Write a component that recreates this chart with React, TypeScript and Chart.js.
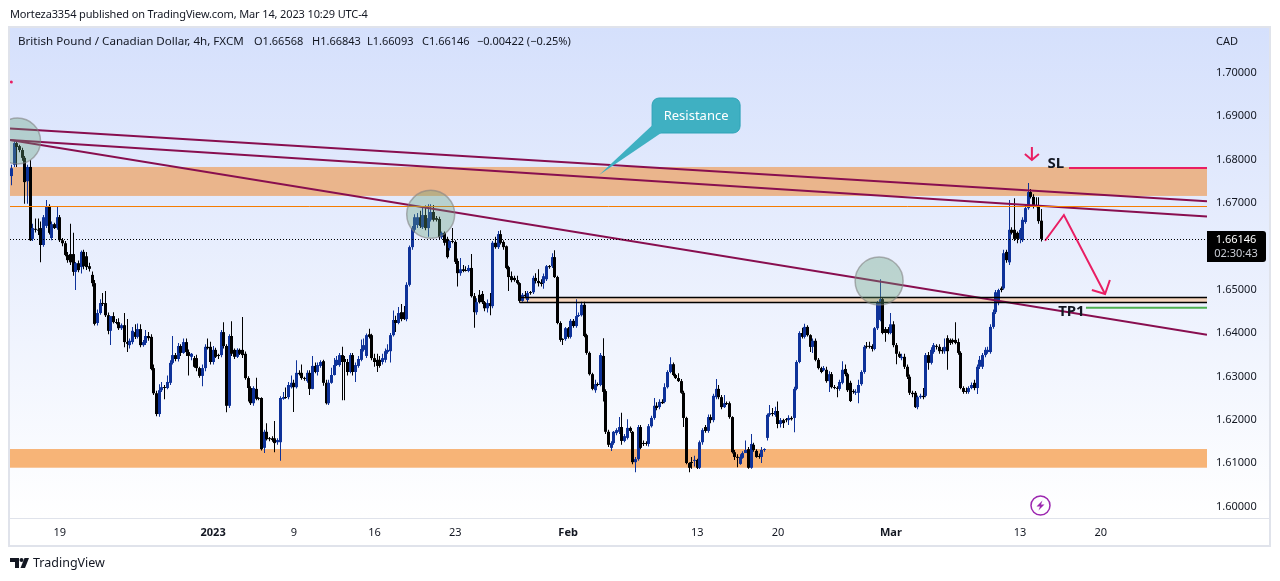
import { useEffect, useRef } from 'react';
import { Chart, registerables } from 'chart.js';

Chart.register(...registerables);

// GBP/CAD 4h candles, in pips above 1.60000
const opens = [
  760, 786, 836, 829, 820, 802, 748, 781, 615, 638,
  636, 640, 601, 645, 691, 617, 649, 640, 665, 612,
  605, 578, 580, 580, 539, 559, 550, 585, 575, 552,
  532, 513, 421, 444, 467, 467, 439, 403, 437, 423,
  423, 409, 416, 377, 370, 377, 400, 389, 407, 370,
  375, 391, 389, 317, 259, 211, 266, 273, 271, 283,
  329, 347, 338, 368, 352, 377, 354, 343, 340, 340,
  317, 299, 317, 366, 366, 331, 359, 347, 347, 400,
  368, 230, 391, 359, 343, 359, 359, 350, 294, 271,
  236, 269, 248, 248, 133, 170, 155, 155, 155, 146,
  146, 246, 250, 250, 273, 283, 273, 306, 306, 294,
  287, 306, 269, 322, 308, 322, 333, 283, 236, 283,
  301, 324, 324, 347, 338, 331, 308, 347, 308, 322,
  336, 359, 345, 395, 393, 340, 336, 336, 331, 336,
  354, 356, 393, 428, 421, 446, 446, 430, 509, 596,
  636, 647, 665, 642, 670, 640, 659, 677, 663, 661,
  619, 629, 615, 594, 610, 608, 564, 536, 545, 543,
  541, 548, 483, 446, 486, 488, 469, 455, 467, 460,
  606, 596, 626, 608, 598, 550, 529, 525, 520, 513,
  472, 486, 474, 492, 492, 525, 518, 515, 513, 522,
  552, 552, 573, 527, 421, 384, 384, 409, 389, 426,
  414, 437, 439, 463, 393, 352, 303, 266, 280, 278,
  345, 264, 170, 133, 144, 167, 170, 181, 149, 156,
  179, 170, 100, 107, 181, 144, 144, 142, 183, 202,
  230, 227, 239, 239, 273, 308, 326, 301, 294, 287,
  260, 202, 98, 100, 103, 105, 87, 146, 181, 172,
  204, 197, 250, 269, 250, 227, 236, 236, 204, 123,
  112, 96, 110, 121, 130, 87, 140, 126, 114, 112,
  128, 156, 209, 213, 209, 218, 188, 197, 199, 197,
  202, 202, 269, 331, 398, 389, 412, 393, 366, 380,
  336, 317, 312, 313, 287, 303, 273, 271, 269, 283,
  315, 303, 283, 264, 260, 260, 280, 308, 368, 368,
  368, 361, 409, 428, 476, 407, 407, 398, 418, 370,
  350, 340, 343, 320, 297, 260, 260, 227, 250, 253,
  253, 347, 329, 354, 368, 366, 359, 356, 386, 382,
  382, 382, 377, 352, 271, 264, 262, 271, 283, 271,
  320, 320, 347, 354, 354, 412, 446, 467, 501, 501,
  585, 561, 636, 636, 629, 615, 612, 654, 686, 723,
  712, 693, 693, 657,
];
const closes = [
  778, 836, 827, 820, 802, 746, 781, 612, 640, 636,
  634, 601, 665, 689, 629, 649, 640, 665, 612, 605,
  578, 566, 561, 539, 559, 543, 585, 552, 550, 546,
  513, 419, 444, 467, 465, 439, 403, 437, 423, 421,
  409, 416, 377, 373, 380, 403, 389, 407, 370, 377,
  391, 386, 315, 259, 211, 266, 273, 271, 285, 329,
  347, 338, 368, 352, 377, 354, 345, 350, 320, 317,
  299, 317, 366, 363, 331, 359, 343, 345, 400, 368,
  230, 391, 350, 343, 359, 350, 347, 294, 271, 236,
  271, 246, 246, 130, 170, 153, 153, 151, 144, 151,
  248, 250, 248, 278, 283, 273, 306, 303, 294, 292,
  306, 269, 322, 308, 324, 331, 283, 236, 283, 301,
  324, 336, 347, 331, 331, 308, 347, 308, 324, 338,
  361, 370, 393, 389, 340, 331, 322, 322, 340, 356,
  359, 393, 428, 421, 444, 430, 430, 509, 596, 640,
  665, 665, 645, 670, 640, 663, 677, 659, 659, 619,
  629, 606, 573, 610, 608, 562, 536, 545, 541, 541,
  548, 483, 446, 469, 469, 469, 455, 467, 460, 606,
  596, 626, 606, 596, 548, 527, 520, 520, 513, 472,
  486, 483, 490, 490, 525, 518, 513, 511, 529, 552,
  550, 573, 527, 421, 382, 382, 409, 389, 426, 414,
  437, 439, 463, 391, 352, 303, 269, 280, 278, 347,
  262, 170, 140, 144, 170, 174, 181, 149, 160, 179,
  172, 100, 107, 181, 133, 142, 142, 183, 202, 230,
  225, 239, 236, 273, 308, 326, 301, 294, 287, 260,
  202, 98, 87, 98, 105, 87, 146, 174, 172, 204,
  197, 253, 269, 250, 227, 236, 234, 204, 123, 112,
  110, 112, 121, 128, 87, 142, 128, 112, 112, 128,
  128, 209, 213, 211, 218, 188, 197, 190, 197, 202,
  199, 269, 331, 398, 389, 412, 393, 366, 380, 336,
  317, 308, 317, 287, 303, 273, 271, 269, 285, 313,
  303, 266, 241, 262, 262, 278, 308, 366, 366, 366,
  361, 409, 469, 476, 398, 398, 398, 418, 370, 350,
  343, 343, 320, 297, 260, 257, 227, 250, 253, 250,
  347, 329, 359, 370, 366, 356, 356, 366, 356, 375,
  377, 375, 352, 271, 262, 262, 271, 278, 271, 320,
  336, 347, 359, 359, 412, 446, 492, 497, 497, 582,
  566, 636, 629, 615, 615, 636, 659, 686, 723, 712,
  689, 691, 656, 615,
];
const highs = [
  786, 843, 843, 832, 825, 806, 786, 797, 650, 662,
  662, 655, 670, 705, 695, 655, 652, 689, 670, 617,
  610, 585, 650, 629, 562, 565, 588, 590, 585, 560,
  540, 520, 452, 476, 490, 495, 445, 410, 446, 430,
  432, 420, 444, 430, 385, 412, 418, 420, 418, 382,
  405, 400, 395, 325, 265, 280, 285, 278, 300, 335,
  391, 352, 375, 372, 385, 385, 360, 352, 345, 348,
  320, 325, 372, 385, 378, 368, 364, 350, 405, 423,
  372, 395, 425, 362, 363, 362, 435, 355, 298, 275,
  275, 295, 250, 250, 175, 190, 158, 160, 195, 155,
  252, 262, 272, 285, 300, 290, 335, 312, 325, 297,
  312, 312, 345, 330, 330, 335, 336, 290, 290, 318,
  340, 345, 352, 366, 345, 338, 352, 352, 330, 345,
  383, 385, 397, 408, 396, 350, 350, 345, 350, 362,
  372, 398, 450, 438, 458, 465, 460, 515, 600, 645,
  672, 675, 680, 688, 692, 695, 695, 693, 668, 666,
  632, 632, 620, 612, 640, 612, 570, 571, 555, 552,
  555, 580, 490, 478, 497, 495, 472, 475, 490, 610,
  620, 633, 635, 612, 600, 553, 540, 530, 530, 515,
  490, 495, 495, 495, 530, 536, 545, 522, 535, 555,
  555, 582, 589, 530, 425, 386, 412, 412, 430, 430,
  476, 445, 470, 470, 396, 355, 306, 290, 284, 352,
  386, 268, 175, 148, 172, 178, 204, 214, 165, 199,
  182, 172, 112, 186, 186, 150, 148, 188, 207, 248,
  238, 245, 245, 282, 312, 342, 330, 304, 305, 292,
  265, 205, 100, 112, 115, 108, 150, 178, 186, 210,
  210, 258, 292, 278, 255, 255, 240, 240, 206, 128,
  118, 118, 125, 150, 135, 165, 145, 130, 120, 135,
  132, 212, 232, 225, 228, 240, 202, 200, 202, 208,
  206, 274, 335, 402, 410, 419, 416, 395, 385, 385,
  340, 320, 322, 320, 310, 308, 278, 275, 290, 333,
  325, 306, 288, 268, 268, 290, 312, 370, 377, 378,
  372, 412, 472, 522, 480, 412, 412, 444, 425, 375,
  355, 350, 350, 325, 302, 265, 264, 254, 258, 271,
  352, 354, 365, 375, 372, 372, 365, 385, 393, 385,
  385, 423, 385, 356, 275, 272, 275, 284, 290, 325,
  345, 352, 365, 366, 418, 452, 497, 500, 505, 590,
  590, 705, 642, 709, 632, 640, 665, 695, 744, 730,
  718, 711, 711, 684,
];
const lows = [
  739, 781, 781, 815, 795, 696, 696, 610, 610, 630,
  624, 561, 597, 640, 625, 612, 638, 636, 608, 598,
  575, 560, 555, 530, 497, 538, 535, 545, 543, 540,
  505, 415, 415, 440, 460, 435, 395, 370, 420, 418,
  405, 405, 365, 354, 362, 372, 384, 385, 365, 366,
  370, 380, 312, 255, 206, 205, 262, 245, 268, 278,
  325, 333, 332, 345, 350, 345, 300, 335, 318, 310,
  295, 275, 310, 360, 325, 325, 340, 338, 342, 362,
  215, 225, 345, 338, 340, 347, 340, 290, 240, 232,
  230, 243, 243, 127, 121, 150, 148, 147, 123, 140,
  103, 244, 246, 245, 270, 216, 270, 300, 290, 288,
  283, 255, 268, 305, 300, 318, 276, 233, 232, 281,
  300, 322, 320, 243, 243, 300, 305, 300, 285, 318,
  333, 355, 340, 385, 335, 320, 308, 318, 325, 330,
  350, 330, 390, 400, 418, 425, 428, 425, 505, 590,
  630, 640, 640, 638, 635, 620, 655, 655, 655, 615,
  615, 600, 570, 588, 605, 557, 505, 530, 538, 540,
  538, 480, 410, 440, 466, 465, 448, 445, 439, 455,
  592, 592, 602, 590, 545, 495, 515, 516, 510, 468,
  470, 478, 468, 486, 488, 512, 505, 505, 500, 518,
  546, 548, 525, 418, 378, 370, 380, 385, 385, 410,
  410, 435, 436, 388, 348, 300, 266, 260, 275, 275,
  240, 165, 135, 126, 140, 162, 165, 140, 146, 152,
  168, 95, 77, 103, 130, 137, 138, 136, 180, 198,
  220, 222, 234, 236, 270, 305, 298, 292, 285, 258,
  181, 95, 77, 85, 90, 84, 84, 140, 168, 168,
  190, 192, 245, 245, 222, 225, 232, 200, 120, 105,
  88, 94, 108, 125, 85, 85, 124, 110, 108, 98,
  124, 150, 205, 206, 205, 178, 180, 179, 192, 186,
  196, 169, 266, 328, 385, 385, 390, 354, 352, 333,
  314, 305, 310, 283, 262, 270, 268, 250, 265, 280,
  298, 262, 239, 258, 255, 236, 276, 304, 362, 362,
  355, 358, 405, 425, 395, 378, 395, 395, 365, 326,
  340, 335, 315, 292, 255, 250, 225, 222, 246, 245,
  250, 313, 325, 350, 360, 350, 350, 350, 313, 370,
  372, 372, 348, 268, 258, 258, 258, 268, 266, 257,
  315, 315, 342, 350, 350, 408, 442, 462, 492, 498,
  560, 555, 625, 610, 605, 605, 608, 650, 682, 708,
  685, 688, 650, 609,
];

const dateTicks = [18, 75, 105, 135, 165, 207, 255, 285, 327, 375, 405];
const dateLabels = ['19', '2023', '9', '16', '23', 'Feb', '13', '20', 'Mar', '13', '20'];
const boldDates = ['2023', 'Feb', 'Mar'];
const priceTicks = [1.6, 1.61, 1.62, 1.63, 1.64, 1.65, 1.66, 1.67, 1.68, 1.69, 1.7];

// drawings, x in bar numbers and y in prices
const xMin = -0.5;
const xMax = 444.5;
const yMin = 1.59712;
const yMax = 1.71015;
const lastPrice = 1.66146;
const trendTop = [{ x: xMin, y: 1.68697 }, { x: xMax, y: 1.67017 }];
const trendMid = [{ x: xMin, y: 1.68432 }, { x: xMax, y: 1.66668 }];
const trendLow = [{ x: xMin, y: 1.68432 }, { x: xMax, y: 1.6394 }];
const zigzag = [{ x: 384.3, y: 1.66108 }, { x: 391.3, y: 1.66701 }, { x: 406.6, y: 1.64879 }];
const zigzagHead = [{ x: 401.7, y: 1.64971 }, { x: 406.6, y: 1.64879 }, { x: 408.4, y: 1.65202 }];
const downShaft = [{ x: 379.4, y: 1.6827 }, { x: 379.4, y: 1.6797 }];
const downHead = [{ x: 376.8, y: 1.68108 }, { x: 379.4, y: 1.6797 }, { x: 382, y: 1.68108 }];
const slLine = [{ x: 393.2, y: 1.67785 }, { x: xMax, y: 1.67785 }];
const tpLine = [{ x: 399.5, y: 1.64563 }, { x: xMax, y: 1.64563 }];
const orangeLine = [{ x: xMin, y: 1.66897 }, { x: xMax, y: 1.66897 }];
// dotted level sits a hair off the last price so it lands on one pixel row
const priceLine = [{ x: xMin, y: 1.66136 }, { x: xMax, y: 1.66136 }];
const shelfTop = [{ x: 189, y: 1.64798 }, { x: xMax, y: 1.64798 }];
const shelfBottom = [{ x: 189, y: 1.64683 }, { x: xMax, y: 1.64683 }];
const circles = [
  { x: 2.3, y: 1.68408, r: 23 },
  { x: 155.9, y: 1.66717, r: 24 },
  { x: 322.6, y: 1.65179, r: 24 },
];
const strayMark = [{ x: 0, y: 1.69769, r: 1.5 }];
const zones = [
  { from: xMin, top: 1.67809, bottom: 1.67141, color: '#eab58c' },
  { from: xMin, top: 1.61303, bottom: 1.60872, color: '#f7b477' },
  { from: 189, top: 1.64798, bottom: 1.64683, color: '#f5d5bd' },
];

const price = (pips: number) => 1.6 + pips / 10000;
const font = '"Noto Sans", sans-serif';
const textColor = '#131722';
const pink = '#e91e63';
const maroon = '#880e4f';
const bullColor = '#0e3299';
const bearColor = '#000000';

const barColors = closes.map((c, i) => (c >= opens[i] ? bullColor : bearColor));

function line(data: { x: number; y: number }[], color: string, width = 2, dash: number[] = []) {
  return {
    type: 'line' as const,
    data,
    borderColor: color,
    borderWidth: width,
    borderDash: dash,
    pointRadius: 0,
    tension: 0,
    clip: 0,
    order: 2,
  };
}

const chartDressing = {
  id: 'chartDressing',
  beforeDraw(chart: any) {
    const { ctx, chartArea: a } = chart;
    ctx.save();
    const g = ctx.createLinearGradient(0, a.top, 0, a.bottom);
    g.addColorStop(0, '#d5e0fc');
    g.addColorStop(1, '#ffffff');
    ctx.fillStyle = g;
    ctx.fillRect(10, a.top, 1260, a.bottom - a.top);
    ctx.strokeStyle = '#e0e3eb';
    ctx.lineWidth = 2;
    ctx.strokeRect(9, 27, 1261, 519);
    ctx.lineWidth = 1;
    ctx.beginPath();
    ctx.moveTo(10, a.bottom + 0.5);
    ctx.lineTo(1270, a.bottom + 0.5);
    ctx.stroke();
    ctx.restore();
  },
  beforeDatasetsDraw(chart: any) {
    const { ctx, chartArea: a, scales } = chart;
    ctx.save();
    for (const z of zones) {
      const left = scales.x.getPixelForValue(z.from);
      const top = scales.y.getPixelForValue(z.top);
      const bottom = scales.y.getPixelForValue(z.bottom);
      ctx.fillStyle = z.color;
      ctx.fillRect(left, top, a.right - left, bottom - top);
    }
    ctx.restore();
    // keep the candles on whole pixels, wicks 1px and bodies 3px
    [0, 1].forEach((index) => {
      chart.getDatasetMeta(index).data.forEach((el: any) => {
        el.x = Math.round(el.x - 0.5) + 0.5;
        el.width = index === 0 ? 1 : 3;
      });
    });
  },
  afterDraw(chart: any) {
    const { ctx, scales } = chart;
    const px = (v: number) => scales.x.getPixelForValue(v);
    const py = (v: number) => scales.y.getPixelForValue(v);
    ctx.save();
    ctx.textBaseline = 'middle';
    ctx.textAlign = 'center';

    ctx.fillStyle = textColor;
    ctx.font = `bold 15px ${font}`;
    ctx.fillText('SL', px(388.3), py(1.67878));
    ctx.fillText('TP1', px(394.1), py(1.64464));

    // callout
    const tipX = px(218.5);
    const tipY = py(1.67624);
    ctx.fillStyle = '#3fb0c2';
    ctx.strokeStyle = '#2ea3b7';
    ctx.lineWidth = 1;
    ctx.beginPath();
    ctx.roundRect(tipX + 53, tipY - 77, 88, 35, 7);
    ctx.fill();
    ctx.stroke();
    ctx.beginPath();
    ctx.moveTo(tipX, tipY);
    ctx.lineTo(tipX + 53.5, tipY - 50);
    ctx.lineTo(tipX + 64, tipY - 50);
    ctx.lineTo(tipX + 62, tipY - 42);
    ctx.closePath();
    ctx.fill();
    ctx.fillStyle = '#ffffff';
    ctx.font = `13px ${font}`;
    ctx.fillText('Resistance', tipX + 97, tipY - 59);

    // last price tag
    const tagY = py(lastPrice) - 8;
    ctx.fillStyle = '#000000';
    ctx.beginPath();
    ctx.roundRect(1207, tagY, 59, 31, [0, 3, 3, 0]);
    ctx.fill();
    ctx.fillStyle = '#ffffff';
    ctx.font = `11px ${font}`;
    ctx.fillText('1.66146', 1236, tagY + 9);
    ctx.fillStyle = '#c9ccd4';
    ctx.fillText('02:30:43', 1236, tagY + 23);

    // flash badge
    const cx = px(382.6);
    const cy = py(1.6);
    ctx.strokeStyle = '#9c27b0';
    ctx.lineWidth = 1.5;
    ctx.beginPath();
    ctx.arc(cx, cy, 9.5, 0, Math.PI * 2);
    ctx.stroke();
    ctx.fillStyle = '#9c27b0';
    ctx.beginPath();
    ctx.moveTo(cx + 2, cy - 5);
    ctx.lineTo(cx - 4, cy + 1);
    ctx.lineTo(cx - 0.5, cy + 1);
    ctx.lineTo(cx - 2, cy + 5);
    ctx.lineTo(cx + 4, cy - 1);
    ctx.lineTo(cx + 0.5, cy - 1);
    ctx.closePath();
    ctx.fill();
    ctx.restore();
  },
};

function Label({ left, top, children, color = textColor, size = 11, spacing = 0 }: any) {
  return (
    <div style={{ position: 'absolute', left, top, fontFamily: font, fontSize: size, letterSpacing: spacing, lineHeight: '16px', color, whiteSpace: 'nowrap' }}>
      {children}
    </div>
  );
}

function App() {
  const canvasRef = useRef<HTMLCanvasElement>(null);

  useEffect(() => {
    if (!canvasRef.current) return;

    const chart = new Chart(canvasRef.current, {
      type: 'bar',
      data: {
        datasets: [
          {
            label: 'wicks',
            data: lows.map((l, i) => ({ x: i, y: [price(l), price(highs[i])] })),
            backgroundColor: barColors,
            grouped: false,
            order: 5,
          },
          {
            label: 'bodies',
            data: opens.map((o, i) => ({ x: i, y: [price(o), price(closes[i])] })),
            backgroundColor: barColors,
            grouped: false,
            minBarLength: 1,
            order: 4,
          },
          line(orangeLine, '#f57c00', 1),
          line(priceLine, '#000000', 1, [1, 2]),
          line(shelfTop, '#000000', 1.5),
          line(shelfBottom, '#000000', 1.5),
          line(trendTop, maroon),
          line(trendMid, maroon),
          line(trendLow, maroon),
          line(zigzag, pink),
          line(zigzagHead, pink),
          line(downShaft, pink),
          line(downHead, pink),
          line(slLine, pink),
          line(tpLine, '#4caf50'),
          {
            type: 'bubble',
            data: circles,
            backgroundColor: 'rgba(100, 160, 120, 0.35)',
            borderColor: 'rgba(130, 130, 130, 0.6)',
            borderWidth: 1.5,
            clip: 0,
            order: 1,
          },
          {
            type: 'bubble',
            data: strayMark,
            backgroundColor: pink,
            borderWidth: 0,
            clip: 0,
            order: 1,
          },
        ] as any,
      },
      options: {
        responsive: false,
        animation: false,
        events: [],
        layout: { autoPadding: false, padding: { left: 10, top: 28, right: 10, bottom: 35 } },
        plugins: { legend: { display: false }, tooltip: { enabled: false } },
        scales: {
          x: {
            type: 'linear',
            offset: false,
            min: xMin,
            max: xMax,
            grid: { display: false },
            border: { display: false },
            afterBuildTicks: (scale: any) => {
              scale.ticks = dateTicks.map((value) => ({ value }));
            },
            afterFit: (scale: any) => {
              scale.height = 28;
            },
            ticks: {
              autoSkip: false,
              maxRotation: 0,
              padding: 0,
              color: textColor,
              font: (ctx: any) => ({
                family: font,
                size: 11,
                weight: boldDates.includes(dateLabels[ctx.index]) ? 'bold' : 'normal',
              }),
              callback: (_v: any, i: number) => dateLabels[i],
            },
          },
          y: {
            type: 'linear',
            position: 'right',
            min: yMin,
            max: yMax,
            grid: { display: false },
            border: { display: false },
            afterBuildTicks: (scale: any) => {
              scale.ticks = priceTicks.map((value) => ({ value }));
            },
            afterFit: (scale: any) => {
              scale.width = 63;
            },
            ticks: {
              autoSkip: false,
              padding: 1,
              labelOffset: 1,
              color: textColor,
              font: { family: font, size: 11 },
              callback: (v: any) => Number(v).toFixed(5),
            },
          },
        },
      },
      plugins: [chartDressing],
    } as any);

    return () => {
      chart.destroy();
    };
  }, []);

  return (
    <div style={{ position: 'fixed', left: 0, top: 0, width: 1280, height: 581, background: '#ffffff', overflow: 'hidden' }}>
      <canvas ref={canvasRef} width={1280} height={581} style={{ display: 'block' }} />
      <Label left={10} top={6} spacing={-0.13}>Morteza3354 published on TradingView.com, Mar 14, 2023 10:29 UTC-4</Label>
      <Label left={18} top={33} size={11.6}>British Pound / Canadian Dollar, 4h, FXCM</Label>
      <Label left={254} top={33}>O1.66568</Label>
      <Label left={312} top={33}>H1.66843</Label>
      <Label left={367} top={33}>L1.66093</Label>
      <Label left={422} top={33}>C1.66146</Label>
      <Label left={477} top={33}>−0.00422 (−0.25%)</Label>
      <Label left={1216} top={33}>CAD</Label>
      <svg width={20} height={12} viewBox="0 0 20 12" style={{ position: 'absolute', left: 10, top: 557 }}>
        <path d="M0 1h9v10H5V5H0z" fill={textColor} />
        <circle cx={11.5} cy={3} r={2} fill={textColor} />
        <path d="M14.5 1H19l-4 10h-4.5z" fill={textColor} />
      </svg>
      <Label left={33} top={555} size={12.5}>TradingView</Label>
    </div>
  );
}

export default App;
